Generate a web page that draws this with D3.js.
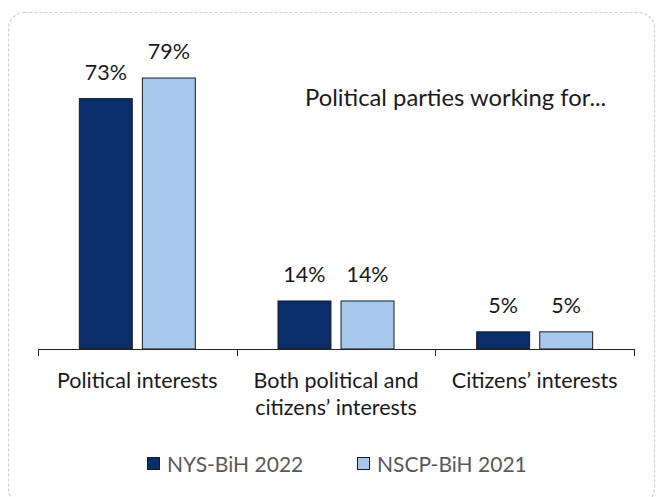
<!DOCTYPE html>
<html>
<head>
<meta charset="utf-8">
<script src="https://cdn.jsdelivr.net/npm/d3@7"></script>
<style>
  html, body { margin: 0; padding: 0; background: #fff; }
  svg { display: block; }
  text { font-family: "Lato", "Open Sans", sans-serif; }
</style>
</head>
<body>
<svg id="chart" width="657" height="497"></svg>
<script>
// Categories and survey results (percent)
const categories = ["Political interests", "Both political and citizens’ interests", "Citizens’ interests"];
const categoryLines = [["Political interests"], ["Both political and", "citizens’ interests"], ["Citizens’ interests"]];
const seriesNames = ["NYS-BiH 2022", "NSCP-BiH 2021"];
const nys2022 = [73, 14, 5];
const nscp2021 = [79, 14, 5];
const seriesColors = ["#0b2e6b", "#a8c7ec"];
const titleText = "Political parties working for...";

const svg = d3.select("#chart");

// Rounded dashed frame
svg.append("rect")
  .attr("x", 8.5).attr("y", 12.5)
  .attr("width", 646).attr("height", 492)
  .attr("rx", 16).attr("ry", 16)
  .attr("fill", "none")
  .attr("stroke", "#cfcfcf")
  .attr("stroke-width", 1.2)
  .attr("stroke-dasharray", "3,2");

const baseY = 349;
const x0 = d3.scaleBand().domain(categories).range([38, 634]).paddingInner(0).paddingOuter(0);
const inner = 116;
const x1 = d3.scaleBand().domain(seriesNames)
  .range([(x0.bandwidth() - inner) / 2, (x0.bandwidth() + inner) / 2])
  .paddingInner(0.16).paddingOuter(0);
const y = d3.scaleLinear().domain([0, 100]).range([baseY, baseY - 343]);

const data = categories.map((c, i) => ({
  category: c,
  values: [
    { series: seriesNames[0], value: nys2022[i] },
    { series: seriesNames[1], value: nscp2021[i] }
  ]
}));

const groups = svg.append("g").selectAll("g")
  .data(data).join("g")
  .attr("transform", d => `translate(${x0(d.category)},0)`);

groups.selectAll("rect")
  .data(d => d.values).join("rect")
  .attr("x", d => x1(d.series))
  .attr("y", d => y(d.value))
  .attr("width", x1.bandwidth())
  .attr("height", d => baseY - y(d.value))
  .attr("fill", (d, i) => seriesColors[i])
  .attr("stroke", "#1a1a1a")
  .attr("stroke-width", 1);

groups.selectAll("text.val")
  .data(d => d.values).join("text")
  .attr("class", "val")
  .attr("x", d => x1(d.series) + x1.bandwidth() / 2)
  .attr("y", d => y(d.value) - 19)
  .attr("text-anchor", "middle")
  .attr("font-size", 21.5)
  .attr("fill", "#1a1a1a")
  .text(d => d.value + "%");

// Category axis with tick marks at band boundaries
const axis = svg.append("g");
axis.append("line")
  .attr("x1", x0.range()[0]).attr("x2", x0.range()[1])
  .attr("y1", baseY + 0.5).attr("y2", baseY + 0.5)
  .attr("stroke", "#222").attr("stroke-width", 1);
const boundaries = categories.map(c => x0(c)).concat([x0.range()[1]]);
axis.selectAll("line.tick")
  .data(boundaries).join("line")
  .attr("class", "tick")
  .attr("x1", d => Math.round(d) + 0.5).attr("x2", d => Math.round(d) + 0.5)
  .attr("y1", baseY).attr("y2", baseY + 7)
  .attr("stroke", "#222").attr("stroke-width", 1);

axis.selectAll("text.cat")
  .data(categories).join("text")
  .attr("class", "cat")
  .attr("x", c => x0(c) + x0.bandwidth() / 2)
  .attr("y", 388)
  .attr("text-anchor", "middle")
  .attr("font-size", 21.5)
  .attr("fill", "#1a1a1a")
  .each(function(c, i) {
    const t = d3.select(this);
    categoryLines[i].forEach((line, j) => {
      t.append("tspan")
        .attr("x", x0(c) + x0.bandwidth() / 2)
        .attr("dy", j === 0 ? 0 : 27)
        .text(line);
    });
  });

// Title inside plot
svg.append("text")
  .attr("x", 305).attr("y", 106)
  .attr("font-size", 23.8)
  .attr("fill", "#1a1a1a")
  .text(titleText);

// Legend
const legendX = [147, 357];
const legend = svg.append("g").selectAll("g")
  .data(seriesNames).join("g")
  .attr("transform", (d, i) => `translate(${legendX[i]},457)`);
legend.append("rect")
  .attr("x", 0.5).attr("y", 0.5)
  .attr("width", 12).attr("height", 12)
  .attr("fill", (d, i) => seriesColors[i])
  .attr("stroke", "#1a1a1a");
legend.append("text")
  .attr("x", 20).attr("y", 14.5)
  .attr("font-size", 21)
  .attr("fill", "#595959")
  .text(d => d);
</script>
</body>
</html>
